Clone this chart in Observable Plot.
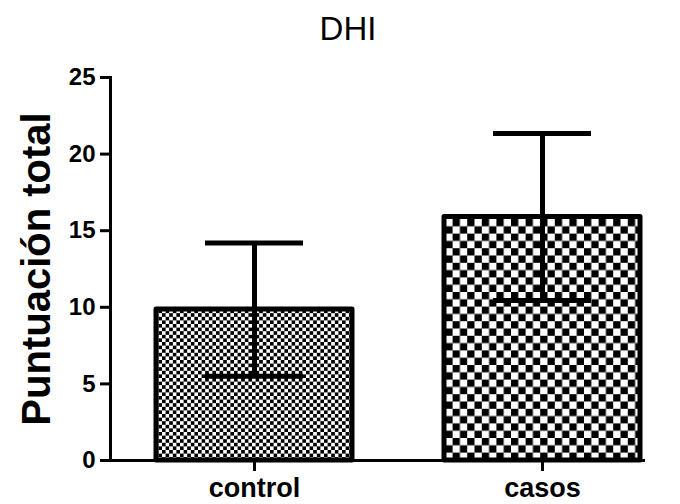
<!DOCTYPE html>
<html>
<head>
<meta charset="utf-8">
<script src="https://cdn.jsdelivr.net/npm/d3@7"></script>
<script src="https://cdn.jsdelivr.net/npm/@observablehq/plot@0.6"></script>
<style>
  html, body { margin: 0; padding: 0; background: #fff; }
</style>
</head>
<body>
<div id="chart"></div>
<script>
// ---- data ----
const categories = ["control", "casos"];
const means = [9.85, 15.9];
const sds = [4.35, 5.45];
const yTicks = [0, 5, 10, 15, 20, 25];
const titleText = ["DHI"];
const yLabelText = ["Puntuación total"];

const data = categories.map((c, i) => ({
  cat: c,
  mean: means[i],
  lo: means[i] - sds[i],
  hi: means[i] + sds[i]
}));

const patternOf = {control: "url(#chk-small)", casos: "url(#chk-large)"};
const font = "Liberation Sans, Arial, Helvetica, sans-serif";

function defsMark() {
  const defs = d3.create("svg:defs");
  const mk = (id, s) => {
    const p = defs.append("pattern")
      .attr("id", id)
      .attr("patternUnits", "userSpaceOnUse")
      .attr("width", 2 * s)
      .attr("height", 2 * s);
    p.append("rect").attr("width", 2 * s).attr("height", 2 * s).attr("fill", "#fff");
    p.append("rect").attr("width", s).attr("height", s).attr("fill", "#000");
    p.append("rect").attr("x", s).attr("y", s).attr("width", s).attr("height", s).attr("fill", "#000");
  };
  mk("chk-small", 3.6);
  mk("chk-large", 7.3);
  return defs.node();
}

const chart = Plot.plot({
  width: 680,
  height: 504,
  marginLeft: 110,
  marginRight: 35,
  marginTop: 77,
  marginBottom: 44,
  style: {fontFamily: font, background: "#fff", color: "#000"},
  color: {type: "identity"},
  x: {domain: categories, range: [110, 686], paddingInner: 0.32, paddingOuter: 0.16, label: null},
  y: {domain: [0, 25], label: null},
  marks: [
    defsMark,
    Plot.barY(data, {
      x: "cat", y: "mean",
      fill: d => patternOf[d.cat],
      stroke: "#000", strokeWidth: 5, strokeLinejoin: "round"
    }),
    Plot.ruleX(data, {x: "cat", y1: "lo", y2: "hi", stroke: "#000", strokeWidth: 5}),
    Plot.tickY(data, {x: "cat", y: "hi", stroke: "#000", strokeWidth: 5, insetLeft: 49, insetRight: 49}),
    Plot.tickY(data, {x: "cat", y: "lo", stroke: "#000", strokeWidth: 5, insetLeft: 49, insetRight: 49}),
    Plot.frame({anchor: "left", stroke: "#000", strokeWidth: 3}),
    Plot.ruleY([0], {stroke: "#000", strokeWidth: 3}),
    Plot.axisY({
      ticks: yTicks, tickSize: 10, tickPadding: 5, strokeWidth: 3,
      fontSize: 24, fontWeight: "bold", label: null
    }),
    Plot.axisX({
      tickSize: 11, tickPadding: 6, strokeWidth: 3,
      fontSize: 27, fontWeight: "bold", label: null
    }),
    Plot.text(yLabelText, {
      text: d => d, frameAnchor: "left", dx: -73, rotate: -90,
      textAnchor: "middle", lineAnchor: "middle",
      fontSize: 40, fontWeight: "bold", fill: "#000"
    }),
    Plot.text(titleText, {
      text: d => d, frameAnchor: "top", dx: -30, dy: -48,
      textAnchor: "middle", lineAnchor: "middle",
      fontSize: 33, fill: "#000"
    })
  ]
});

document.getElementById("chart").appendChild(chart);
</script>
</body>
</html>
